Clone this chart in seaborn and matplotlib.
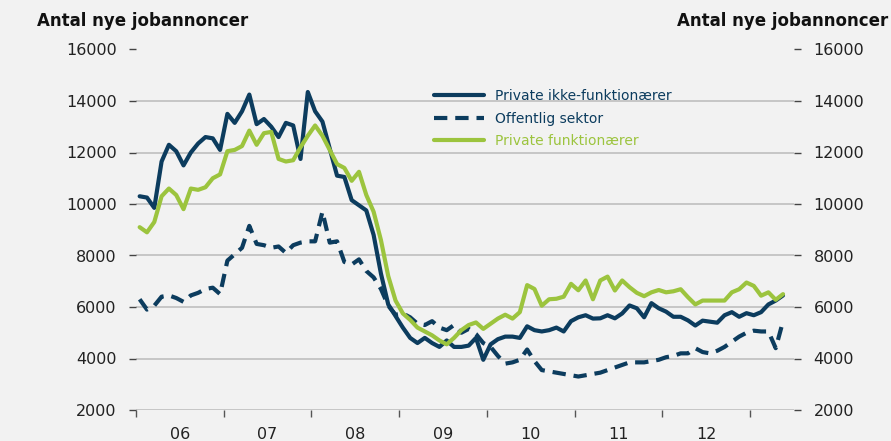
import matplotlib
matplotlib.use("Agg")
import matplotlib.pyplot as plt
import numpy as np
import pandas as pd
import seaborn as sns

# monthly values, Jan 2006 - May 2013
PRIVATE_IKKE_FUNK = [
    10300, 10250, 9850, 11650, 12300, 12050, 11500, 12000, 12350, 12600, 12550, 12100,
    13500, 13150, 13600, 14250, 13100, 13300, 13000, 12600, 13150, 13050, 11750, 14350,
    13600, 13200, 12150, 11100, 11050, 10150, 9950, 9750, 8800, 7300, 6100, 5650,
    5200, 4800, 4600, 4800, 4600, 4450, 4700, 4450, 4450, 4500, 4800, 3950,
    4550, 4750, 4850, 4850, 4800, 5250, 5100, 5050, 5100, 5200, 5050, 5450,
    5600, 5680, 5550, 5560, 5680, 5560, 5750, 6060, 5950, 5600, 6150, 5950,
    5820, 5620, 5620, 5480, 5280, 5470, 5430, 5390, 5680, 5800, 5620, 5760,
    5680, 5800, 6100, 6250, 6450,
]
OFFENTLIG = [
    6300, 5900, 6050, 6400, 6450, 6350, 6200, 6450, 6550, 6700, 6750, 6500,
    7800, 8050, 8300, 9150, 8450, 8400, 8300, 8350, 8100, 8400, 8500, 8550,
    8550, 9700, 8500, 8550, 7750, 7650, 7850, 7400, 7150, 6700, 6050, 5700,
    5750, 5600, 5350, 5300, 5450, 5200, 5100, 5300, 5000, 5150, 4950, 4600,
    4450, 4100, 3800, 3850, 3950, 4350, 3900, 3550, 3500, 3450, 3400, 3350,
    3300, 3350, 3400, 3450, 3550, 3650, 3750, 3850, 3850, 3850, 3900, 3950,
    4050, 4100, 4200, 4200, 4400, 4250, 4200, 4300, 4450, 4650, 4850, 5000,
    5080, 5050, 5050, 4400, 5450,
]
PRIVATE_FUNK = [
    9100, 8900, 9300, 10300, 10600, 10350, 9800, 10600, 10550, 10650, 11000, 11150,
    12050, 12100, 12250, 12850, 12300, 12750, 12800, 11750, 11650, 11700, 12200, 12650,
    13050, 12650, 12100, 11550, 11400, 10900, 11250, 10350, 9700, 8600, 7200, 6250,
    5750, 5500, 5200, 5050, 4900, 4700, 4550, 4800, 5100, 5300, 5400, 5150,
    5350, 5550, 5700, 5550, 5800, 6850, 6700, 6050, 6300, 6320, 6400, 6900,
    6650, 7030, 6300, 7030, 7180, 6640, 7030, 6770, 6550, 6420, 6570, 6660,
    6570, 6610, 6690, 6380, 6100, 6250, 6250, 6250, 6250, 6570, 6690, 6950,
    6820, 6440, 6570, 6280, 6500,
]
SERIES = ["Private ikke-funktionærer", "Offentlig sektor", "Private funktionærer"]
YEAR_LABELS = ["06", "07", "08", "09", "10", "11", "12"]
Y_TICKS = [2000, 4000, 6000, 8000, 10000, 12000, 14000, 16000]
TITLE = "Antal nye jobannoncer"

COLORS = {
    "Private ikke-funktionærer": "#0c3c5e",
    "Offentlig sektor": "#0c3c5e",
    "Private funktionærer": "#9cc43e",
}
STYLES = {
    "Private ikke-funktionærer": "-",
    "Offentlig sektor": (0, (3.2, 1.9)),
    "Private funktionærer": "-",
}
BG = "#f2f2f2"


def build_frame():
    n = len(PRIVATE_IKKE_FUNK)
    x = 2006 + (np.arange(n) + 0.5) / 12
    parts = []
    for name, vals in zip(SERIES, [PRIVATE_IKKE_FUNK, OFFENTLIG, PRIVATE_FUNK]):
        parts.append(pd.DataFrame({"x": x, "value": vals, "serie": name}))
    return pd.concat(parts, ignore_index=True)


def main():
    sns.set_theme(style="white", rc={"axes.facecolor": BG, "figure.facecolor": BG})
    plt.rcParams["font.family"] = ["DejaVu Sans"]

    df = build_frame()
    fig = plt.figure(figsize=(8.91, 4.41), dpi=100)
    ax = fig.add_axes([136 / 891, 1 - 410 / 441, (794 - 136) / 891, (410 - 49.5) / 441])
    ax.set_facecolor(BG)

    for name in SERIES:
        sub = df[df["serie"] == name]
        sns.lineplot(data=sub, x="x", y="value", ax=ax, color=COLORS[name],
                     linestyle=STYLES[name], linewidth=3.0, label=name, zorder=3)

    ax.set_xlim(2006, 2013.5)
    ax.set_ylim(2000, 16000)
    ax.set_yticks(Y_TICKS)
    ax.set_yticklabels([str(v) for v in Y_TICKS])
    ax.set_xlabel("")
    ax.set_ylabel("")

    # year boundary ticks (no labels), year labels centred in each year
    ax.set_xticks(np.arange(2006, 2014), labels=[""] * 8)
    ax.set_xticks(np.arange(2006, 2013) + 0.5, labels=YEAR_LABELS, minor=True)
    ax.tick_params(axis="x", which="major", bottom=True, direction="out", length=5,
                   width=1, color="#555555")
    ax.tick_params(axis="x", which="minor", bottom=False, length=0, pad=12,
                   labelsize=11.5, labelcolor="#222222")
    ax.tick_params(axis="y", left=True, right=True, labelleft=True, labelright=True,
                   direction="out", length=5, width=1, color="#444444",
                   labelsize=11.5, labelcolor="#222222", pad=9)

    ax.yaxis.grid(True, color="#c6c6c6", linewidth=1.4, zorder=0)
    ax.xaxis.grid(False)
    for s in ax.spines.values():
        s.set_visible(False)

    ax.legend(loc="upper left", bbox_to_anchor=(0.445, 0.905), frameon=False,
              handlelength=3.6, labelcolor="linecolor", fontsize=10,
              labelspacing=0.6, handletextpad=0.8, borderaxespad=0)

    fig.text(37 / 891, 1 - 21 / 441, TITLE, ha="left", va="center",
             fontsize=12, fontweight="bold", color="#111111")
    fig.text(888 / 891, 1 - 21 / 441, TITLE, ha="right", va="center",
             fontsize=12, fontweight="bold", color="#111111")

    fig.savefig("out.png", dpi=100, facecolor=BG)
    plt.close(fig)


if __name__ == "__main__":
    main()
